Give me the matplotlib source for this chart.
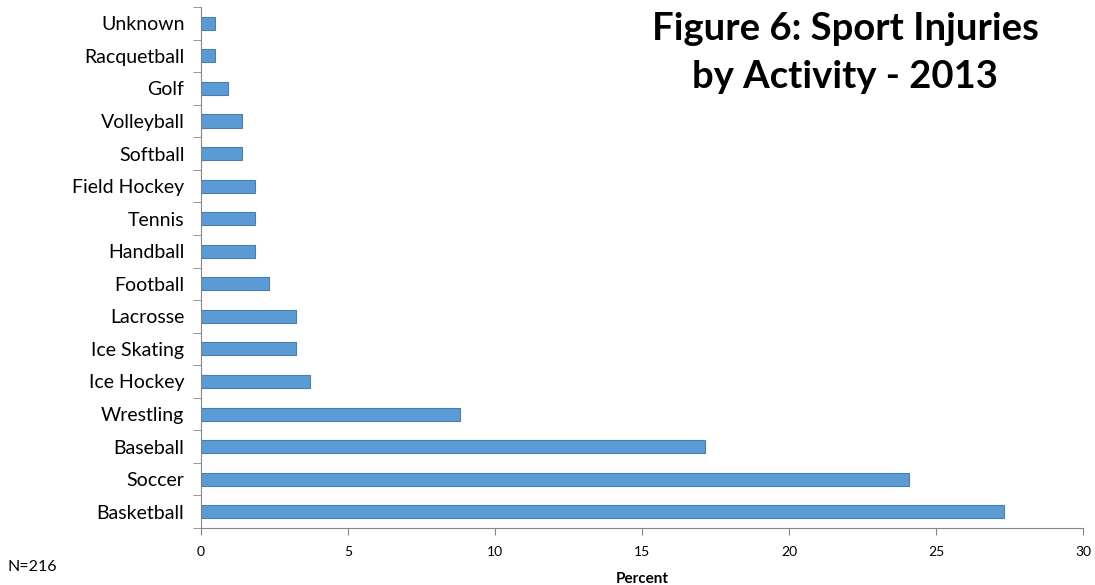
import matplotlib.pyplot as plt

# injury counts by activity (N=216), shown as percent of all injuries
activities = ['Basketball', 'Soccer', 'Baseball', 'Wrestling', 'Ice Hockey',
              'Ice Skating', 'Lacrosse', 'Football', 'Handball', 'Tennis',
              'Field Hockey', 'Softball', 'Volleyball', 'Golf', 'Racquetball',
              'Unknown']
counts = [59, 52, 37, 19, 8, 7, 7, 5, 4, 4, 4, 3, 3, 2, 1, 1]
total = 216
percent = [c / total * 100 for c in counts]

plt.rcParams['font.family'] = ['Lato', 'DejaVu Sans']

fig = plt.figure(figsize=(10.95, 5.85), dpi=100)
ax = fig.add_axes([0.1836, 0.0974, 0.8054, 0.8906])

pos = list(range(len(activities)))
ax.barh(pos, percent, height=0.4, color='#5B9BD5', edgecolor='#4A7EAE', linewidth=0.8)

ax.set_xlim(0, 30)
ax.set_ylim(-0.5, len(activities) - 0.5)
ax.set_xticks([0, 5, 10, 15, 20, 25, 30])
ax.tick_params(axis='x', labelsize=10, length=5, color='#868686', pad=8)

# category labels centred on bars, ticks drawn between categories
ax.set_yticks(pos)
ax.set_yticklabels(activities, fontsize=14)
ax.tick_params(axis='y', which='major', length=0, pad=12)
ax.set_yticks([p - 0.5 for p in pos] + [len(activities) - 0.5], minor=True)
ax.tick_params(axis='y', which='minor', length=6, color='#868686')

for side in ['top', 'right']:
    ax.spines[side].set_visible(False)
for side in ['left', 'bottom']:
    ax.spines[side].set_color('#868686')

ax.set_xlabel('Percent', fontsize=11, fontweight='bold', labelpad=10)

fig.text(0.772, 0.950, 'Figure 6: Sport Injuries', fontsize=27.5, fontweight='bold',
         ha='center', va='center')
fig.text(0.772, 0.868, 'by Activity - 2013', fontsize=27.5, fontweight='bold',
         ha='center', va='center')
fig.text(0.007, 0.03, 'N=216', fontsize=11.5, ha='left', va='center')

fig.savefig('out.png', dpi=100)
